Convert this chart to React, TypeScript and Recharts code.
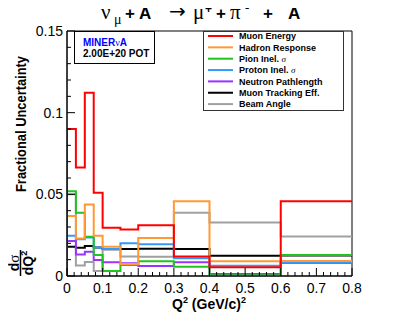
import React from 'react';
import { ComposedChart, Line, XAxis, YAxis, ReferenceArea } from 'recharts';

const binEdges = [0, 0.025, 0.05, 0.075, 0.1, 0.15, 0.2, 0.3, 0.4, 0.6, 0.8];
const muonEnergy = [0.09, 0.0664, 0.1122, 0.0509, 0.0295, 0.0285, 0.031, 0.012, 0.0053, 0.0458];
const hadronResponse = [0.0367, 0.023, 0.0438, 0.0246, 0.0179, 0.0073, 0.0233, 0.0458, 0.009, 0.0092];
const pionInel = [0.0519, 0.0387, 0.024, 0.0128, 0.0031, 0.0067, 0.009, 0.0057, 0.0005, 0.0128];
const protonInel = [0.0246, 0.0225, 0.0235, 0.0175, 0.0165, 0.02, 0.0195, 0.0108, 0.0063, 0.0081];
const neutronPath = [0.0214, 0.0132, 0.0148, 0.0098, 0.0084, 0.0078, 0.0061, 0.0084, 0.0012, 0.008];
const muonTracking = [0.0179, 0.0173, 0.0183, 0.0175, 0.0165, 0.0165, 0.0167, 0.0165, 0.0124, 0.0125];
const beamAngle = [0.05, 0.0065, 0.0085, 0.003, 0.016, 0.012, 0.0118, 0.0387, 0.0328, 0.0242];

const xTicks = Array.from({ length: 41 }, (_, i) => i / 50);
const yTicks = Array.from({ length: 16 }, (_, i) => i / 100);
const xLabels = ['0', '0.1', '0.2', '0.3', '0.4', '0.5', '0.6', '0.7', '0.8'];
const yLabels = ['0', '0.05', '0.1', '0.15'];

const series = [
  { key: 'me', name: 'Muon Energy', sigma: false, values: muonEnergy, color: '#ff0000' },
  { key: 'hr', name: 'Hadron Response', sigma: false, values: hadronResponse, color: '#ff9933' },
  { key: 'pi', name: 'Pion Inel. ', sigma: true, values: pionInel, color: '#1fc41f' },
  { key: 'pr', name: 'Proton Inel. ', sigma: true, values: protonInel, color: '#3399ff' },
  { key: 'np', name: 'Neutron Pathlength', sigma: false, values: neutronPath, color: '#9933ff' },
  { key: 'mt', name: 'Muon Tracking Eff.', sigma: false, values: muonTracking, color: '#000000' },
  { key: 'ba', name: 'Beam Angle', sigma: false, values: beamAngle, color: '#a0a0a0' },
];

const rows: any[] = [];
{
  const first: any = { q: binEdges[0] };
  series.forEach((s) => (first[s.key] = 0));
  rows.push(first);
  for (let i = 0; i < binEdges.length - 1; i++) {
    const r: any = { q: binEdges[i] };
    series.forEach((s) => (r[s.key] = s.values[i]));
    rows.push(r);
  }
  const last: any = { q: binEdges[binEdges.length - 1] };
  series.forEach((s) => (last[s.key] = s.values[s.values.length - 1]));
  rows.push(last);
}

const SANS = 'Liberation Sans, Arial, Helvetica, sans-serif';
const SERIF = 'Liberation Serif, Times New Roman, serif';

const XTick = (props: any) => {
  const { x, y, payload } = props;
  const idx = Math.round(payload.value * 50);
  const major = idx % 5 === 0;
  return (
    <g>
      <line x1={x} x2={x} y1={y} y2={y - (major ? 8 : 4)} stroke="#000" strokeWidth={1} />
      {major && (
        <text x={x} y={y + 17} textAnchor="middle" fontSize={14} fontFamily={SANS} fill="#000">
          {xLabels[idx / 5]}
        </text>
      )}
    </g>
  );
};

const YTick = (props: any) => {
  const { x, y, payload } = props;
  const idx = Math.round(payload.value * 100);
  const major = idx % 5 === 0;
  return (
    <g>
      <line x1={x} x2={x + (major ? 8 : 4)} y1={y} y2={y} stroke="#000" strokeWidth={1} />
      {major && (
        <text x={x - 4} y={y + 5} textAnchor="end" fontSize={14} fontFamily={SANS} fill="#000">
          {yLabels[idx / 5]}
        </text>
      )}
    </g>
  );
};

export default function App() {
  const drawOrder = [...series].reverse();
  return (
    <div style={{ position: 'relative', width: 407, height: 328, margin: -8, background: '#fff' }}>
      <ComposedChart
        width={407}
        height={328}
        data={rows}
        margin={{ top: 31, right: 55, bottom: 0, left: 0 }}
      >
        <XAxis
          type="number"
          dataKey="q"
          domain={[0, 0.8]}
          ticks={xTicks}
          interval={0}
          height={52}
          tickSize={0}
          tickMargin={0}
          tick={(p: any) => <XTick {...p} />}
          tickLine={false}
          axisLine={{ stroke: '#000', strokeWidth: 1 }}
          allowDataOverflow
        />
        <YAxis
          type="number"
          domain={[0, 0.15]}
          ticks={yTicks}
          interval={0}
          width={67}
          tickSize={0}
          tickMargin={0}
          tick={(p: any) => <YTick {...p} />}
          tickLine={false}
          axisLine={{ stroke: '#000', strokeWidth: 1 }}
          allowDataOverflow
        />
        <ReferenceArea x1={0} x2={0.8} y1={0} y2={0.15} fill="none" stroke="#000" strokeWidth={1} ifOverflow="visible" />
        {drawOrder.map((s) => (
          <Line
            key={s.key}
            dataKey={s.key}
            type="stepAfter"
            stroke={s.color}
            strokeWidth={2}
            dot={false}
            activeDot={false}
            isAnimationActive={false}
          />
        ))}
      </ComposedChart>
      <svg width={407} height={328} style={{ position: 'absolute', left: 0, top: 0, pointerEvents: 'none' }}>
        {/* Title */}
        <g fill="#000">
          <text x={101} y={19} fontSize={21} fontFamily={SERIF}>ν</text>
          <line x1={102} x2={112} y1={6.5} y2={6.5} stroke="#000" strokeWidth={1.3} />
          <text x={114} y={24} fontSize={14} fontFamily={SERIF}>μ</text>
          <text x={125} y={19} fontSize={17} fontWeight="bold" fontFamily={SANS}>+</text>
          <text x={139} y={19} fontSize={17} fontWeight="bold" fontFamily={SANS}>A</text>
          <text x={169} y={18} fontSize={20} fontFamily="DejaVu Sans, sans-serif">→</text>
          <text x={193} y={19} fontSize={21} fontFamily={SERIF}>μ</text>
          <text x={205} y={13} fontSize={12} fontWeight="bold" fontFamily={SANS}>+</text>
          <text x={216} y={19} fontSize={17} fontWeight="bold" fontFamily={SANS}>+</text>
          <text x={230} y={19} fontSize={21} fontFamily={SERIF}>π</text>
          <text x={245} y={12} fontSize={13} fontWeight="bold" fontFamily={SANS}>-</text>
          <text x={263} y={19} fontSize={17} fontWeight="bold" fontFamily={SANS}>+</text>
          <text x={288} y={19} fontSize={17} fontWeight="bold" fontFamily={SANS}>A</text>
        </g>
        {/* Y axis title */}
        <g transform="translate(26,124) rotate(-90)">
          <text x={0} y={0} textAnchor="middle" fontSize={15} fontWeight="bold" fontFamily={SANS} textLength={136} lengthAdjust="spacingAndGlyphs">
            Fractional Uncertainty
          </text>
        </g>
        <g transform="translate(20.5,263) rotate(-90)">
          <text x={0} y={-2} textAnchor="middle" fontSize={14} fontWeight="bold" fontFamily={SANS}>
            d<tspan fontFamily={SERIF} fontWeight="normal" fontSize={15}>σ</tspan>
          </text>
          <line x1={-13} x2={13} y1={0} y2={0} stroke="#000" strokeWidth={1.5} />
          <text x={0} y={12.5} textAnchor="middle" fontSize={14} fontWeight="bold" fontFamily={SANS}>
            dQ<tspan fontSize={9} dy={-6}>2</tspan>
          </text>
        </g>
        {/* X axis title */}
        <text x={209} y={309} textAnchor="middle" fontSize={14} fontWeight="bold" fontFamily={SANS}>
          Q<tspan fontSize={9} dy={-6}>2</tspan>
          <tspan dy={6}> (GeV/c)</tspan>
          <tspan fontSize={9} dy={-6}>2</tspan>
        </text>
        {/* MINERvA box */}
        <rect x={74.5} y={31.5} width={80} height={32} fill="#fff" stroke="#000" strokeWidth={1} />
        <text x={83} y={46} fontSize={10} fontWeight="bold" fontFamily={SANS} fill="#0000ff">
          MINER<tspan fontFamily={SERIF} fontWeight="normal" fontSize={10}>ν</tspan>A
        </text>
        <text x={83} y={57} fontSize={10} fontWeight="bold" fontFamily={SANS} fill="#000">
          2.00E+20 POT
        </text>
        {/* Legend */}
        <rect x={203.5} y={31.5} width={140} height={79} fill="#fff" stroke="#333" strokeWidth={1} />
        {series.map((s, i) => {
          const cy = 36 + i * 11.35;
          return (
            <g key={s.key}>
              <line x1={208} x2={233} y1={cy} y2={cy} stroke={s.color} strokeWidth={2} />
              <text x={239} y={cy + 3.3} fontSize={9} fontWeight="bold" fontFamily={SANS} fill="#000">
                {s.name}
                {s.sigma && (
                  <tspan fontFamily={SERIF} fontWeight="normal" fontStyle="italic" fontSize={9}>σ</tspan>
                )}
              </text>
            </g>
          );
        })}
      </svg>
    </div>
  );
}
